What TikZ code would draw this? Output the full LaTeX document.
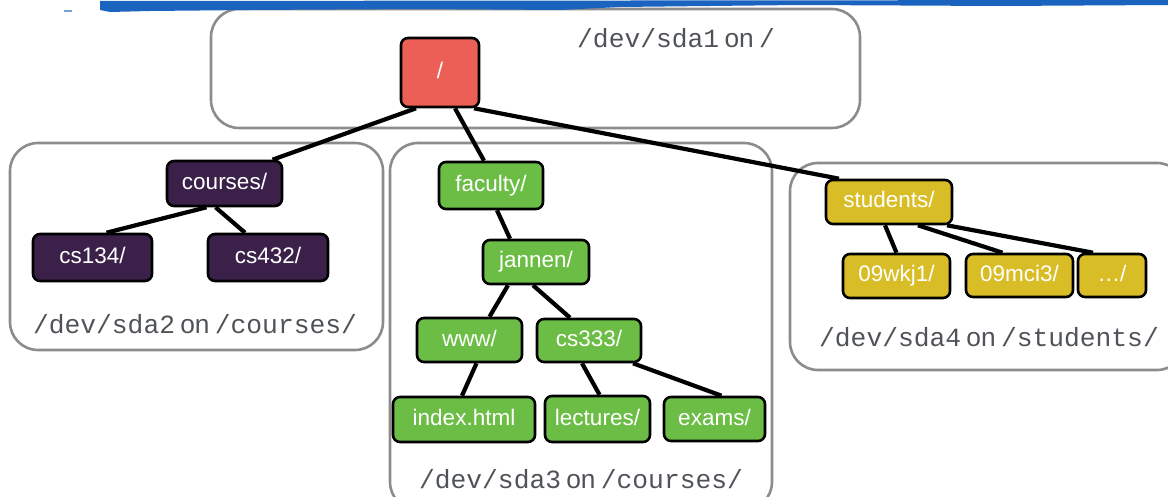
\documentclass[tikz,border=0pt]{standalone}
\usepackage{fontspec}
\setmainfont{Liberation Sans}
\newfontfamily\monof{Liberation Mono}
\usetikzlibrary{backgrounds}
\pgfdeclarelayer{edges}
\pgfsetlayers{background,edges,main}
\definecolor{rootred}{HTML}{EB5F57}
\definecolor{purp}{HTML}{3B2149}
\definecolor{grn}{HTML}{6CBD45}
\definecolor{yel}{HTML}{D9BD27}
\definecolor{frame}{HTML}{8C8C8E}
\definecolor{lbl}{HTML}{4F5358}
\definecolor{brush}{HTML}{1A63BF}
\tikzset{
  dirbox/.style={draw=black, line width=2.6pt, rounded corners=7pt, text=white,
    font=\fontsize{22.5}{25}\selectfont, inner sep=0pt, text height=16pt, text depth=4pt},
  rootn/.style={dirbox, fill=rootred},
  purn/.style={dirbox, fill=purp},
  grnn/.style={dirbox, fill=grn},
  yeln/.style={dirbox, fill=yel},
  region/.style={draw=frame, line width=2.6pt, rounded corners=28pt},
  mountlbl/.style={text=lbl, font=\fontsize{26.3}{29}\selectfont, inner sep=0pt},
  link/.style={draw=black, line width=4.2pt}
}
\newcommand{\mnt}[2]{{\monof #1}\hspace{0.2em}on\hspace{0.2em}{\monof #2}}
\begin{document}
\begin{tikzpicture}[x=1pt,y=-1pt]
\useasboundingbox (0,0) rectangle (1168,497);
% top brush stroke
\fill[brush] (100,1) -- (1168,0) -- (1168,5) -- (1000,6) -- (800,5) -- (620,7) -- (560,10) -- (420,9) -- (250,10) -- (150,11) -- (110,12) -- (100,10) -- cycle;
\fill[brush!60] (64,10) rectangle (72,12);
% regions
\begin{pgfonlayer}{background}
\draw[region] (211,9) rectangle (860,128);
\draw[region] (10,143) rectangle (383,350);
\draw[region] (390,143) rectangle (772,510);
\draw[region] (790,163) rectangle (1185,370);
\end{pgfonlayer}
% nodes
\node[rootn, minimum width=78pt, minimum height=69pt] (root) at (440,72.5) {/};
\node[purn, minimum width=115pt, minimum height=45pt] (courses) at (224.5,183.5) {courses/};
\node[purn, minimum width=119pt, minimum height=47pt] (cs134) at (92.5,257.5) {cs134/};
\node[purn, minimum width=120pt, minimum height=47pt] (cs432) at (268,257.5) {cs432/};
\node[grnn, minimum width=104pt, minimum height=47pt] (faculty) at (491,185.5) {faculty/};
\node[grnn, minimum width=106pt, minimum height=44pt] (jannen) at (536,262) {jannen/};
\node[grnn, minimum width=105pt, minimum height=44pt] (www) at (469.5,340) {www/};
\node[grnn, minimum width=104pt, minimum height=43pt] (cs333) at (589,340.5) {cs333/};
\node[grnn, minimum width=142pt, minimum height=45pt] (index) at (464,419.5) {index.html};
\node[grnn, minimum width=105pt, minimum height=46pt] (lectures) at (597.5,419) {lectures/};
\node[grnn, minimum width=101pt, minimum height=44pt] (exams) at (714.5,419) {exams/};
\node[yeln, minimum width=126pt, minimum height=44pt] (students) at (889,202) {students/};
\node[yeln, minimum width=107pt, minimum height=44pt] (wkj) at (896.5,276) {09wkj1/};
\node[yeln, minimum width=107pt, minimum height=43pt] (mci) at (1019.5,275.5) {09mci3/};
\node[yeln, minimum width=68pt, minimum height=43pt] (dots) at (1112,275.5) {\ldots/};
% labels
\node[mountlbl] (l1) at (676,38) {\mnt{/dev/sda1}{/}};
\node[mountlbl] (l2) at (195,324) {\mnt{/dev/sda2}{/courses/}};
\node[mountlbl] (l3) at (581,479) {\mnt{/dev/sda3}{/courses/}};
\node[mountlbl] (l4) at (989,337) {\mnt{/dev/sda4}{/students/}};
% connectors
\begin{pgfonlayer}{edges}
\draw[link] ([xshift=-24pt]root.south) -- ([xshift=48pt]courses.north);
\draw[link] ([xshift=15pt]root.south) -- ([xshift=-7pt]faculty.north);
\draw[link] ([xshift=34pt]root.south) -- ([xshift=-50pt]students.north);
\draw[link] ([xshift=-18pt]courses.south) -- ([xshift=14pt]cs134.north);
\draw[link] ([xshift=-9pt]courses.south) -- ([xshift=-23pt]cs432.north);
\draw[link] ([xshift=6pt]faculty.south) -- ([xshift=-26pt]jannen.north);
\draw[link] ([xshift=-28pt]jannen.south) -- ([xshift=20pt]www.north);
\draw[link] ([xshift=-3pt]jannen.south) -- ([xshift=-19pt]cs333.north);
\draw[link] ([xshift=7pt]www.south) -- ([xshift=-2pt]index.north);
\draw[link] ([xshift=-7pt]cs333.south) -- ([xshift=2pt]lectures.north);
\draw[link] ([xshift=44pt]cs333.south) -- ([xshift=7pt]exams.north);
\draw[link] ([xshift=-4pt]students.south) -- ([xshift=0pt]wkj.north);
\draw[link] ([xshift=29pt]students.south) -- ([xshift=-17pt]mci.north);
\draw[link] ([xshift=58pt]students.south) -- ([xshift=-19pt]dots.north);
\end{pgfonlayer}
\end{tikzpicture}
\end{document}
